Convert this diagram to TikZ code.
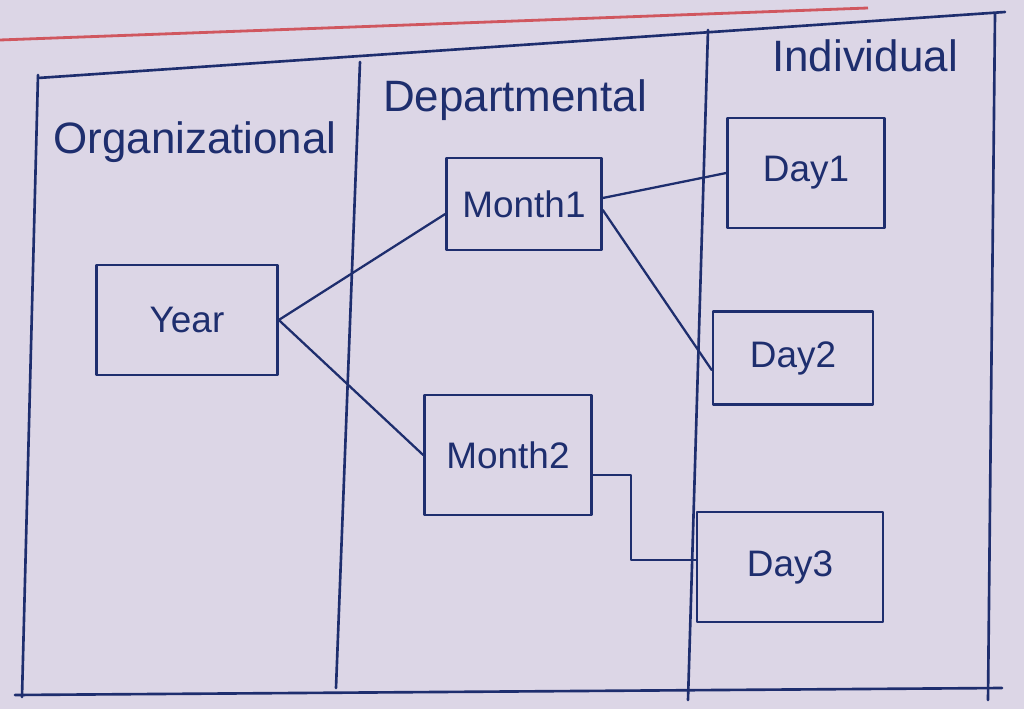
\documentclass[tikz,border=0pt]{standalone}
\usepackage{fontspec}
\setmainfont{Liberation Sans}
\usetikzlibrary{calc}
\definecolor{paper}{HTML}{DCD6E6}
\definecolor{ink}{HTML}{1E2E6E}
\definecolor{margin}{HTML}{D0575F}
\begin{document}
\begin{tikzpicture}[x=0.02cm,y=-0.02cm,
  ink line/.style={draw=ink,line width=1.5pt,line cap=round,line join=round},
  wire/.style={draw=ink,line width=1.3pt,line cap=round,line join=round},
  unitbox/.style={ink line,rectangle,inner sep=0pt,font=\fontsize{21}{25}\selectfont,text=ink},
  header/.style={font=\fontsize{25}{29}\selectfont,text=ink,inner sep=0pt}]
  % sheet of paper
  \fill[paper] (0,0) rectangle (1024,709);
  \useasboundingbox (0,0) rectangle (1024,709);
  % margin rule of the sheet
  \draw[margin,line width=1.6pt] (0,40) -- (868,8);

  % table frame and column dividers
  \draw[ink line] (38,78) -- (1005,12);
  \draw[ink line] (15,695) -- (1002,688);
  \draw[ink line] (38,75) -- (22,697);
  \draw[ink line] (360,62) -- (336,688);
  \draw[ink line] (708,30) -- (688,700);
  \draw[ink line] (995,14) -- (988,700);

  % column headings
  \node[header] (hOrg) at (195,142) {Organizational};
  \node[header] (hDep) at (515,100) {Departmental};
  \node[header] (hInd) at (865,56) {Individual};

  % planning units
  \node[unitbox,minimum width=3.62cm,minimum height=2.2cm]  (year) at (187,320) {Year};
  \node[unitbox,minimum width=3.1cm,minimum height=1.84cm]  (m1)   at (524,204) {Month1};
  \node[unitbox,minimum width=3.34cm,minimum height=2.4cm]  (m2)   at (508,455) {Month2};
  \node[unitbox,minimum width=3.14cm,minimum height=2.2cm]  (d1)   at (806,173) {Day1};
  \node[unitbox,minimum width=3.2cm,minimum height=1.86cm]  (d2)   at (793,358) {Day2};
  \node[unitbox,minimum width=3.72cm,minimum height=2.2cm]  (d3)   at (790,567) {Day3};

  % links between levels
  \draw[wire] (year.east) -- ($(m1.west)+(0,10)$);
  \draw[wire] (year.east) -- (m2.west);
  \draw[wire] ($(m1.east)+(0,-6)$) -- (d1.west);
  \draw[wire] ($(m1.east)+(0,6)$) -- ($(d2.west)+(0,12)$);
  \draw[wire] ($(m2.east)+(0,20)$) -- ++(38,0) |- ($(d3.west)+(0,-7)$);
\end{tikzpicture}
\end{document}
